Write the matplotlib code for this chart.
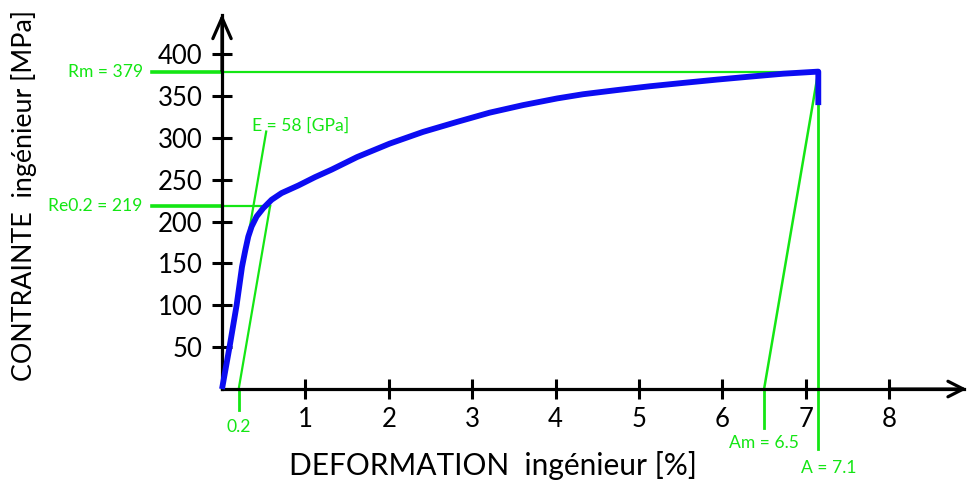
import matplotlib.pyplot as plt
import numpy as np

plt.rcParams['font.family'] = ['Lato', 'DejaVu Sans']

# courbe de traction (deformation %, contrainte MPa)
strain = [0, 0.09, 0.175, 0.24, 0.28, 0.315, 0.355, 0.415, 0.495, 0.595,
          0.715, 0.915, 1.115, 1.315, 1.62, 2.01, 2.41, 2.82, 3.21, 3.61,
          4.02, 4.33, 4.74, 5.13, 5.53, 5.94, 6.33, 6.73, 7.15, 7.15]
stress = [0, 50, 100, 146, 166, 182, 194, 206, 216, 226,
          234, 243, 253, 262, 277, 293, 307, 319, 330, 339,
          347, 352, 357, 361.5, 365.5, 369.5, 373, 376.5, 379, 339]

# valeurs caracteristiques
Rm = 379
Re02 = 219
E_GPa = 58
offset = 0.2
Am = 6.5
A_pos = 7.15
A_label = 7.1

xticks = [1, 2, 3, 4, 5, 6, 7, 8]
yticks = [50, 100, 150, 200, 250, 300, 350, 400]

green = '#14e614'
blue = '#0c0cf2'

fig = plt.figure(figsize=(9.68, 4.83), dpi=100)
ax = fig.add_axes([0, 0, 1, 1])
ax.set_xlim(-2.662, 8.945)
ax.set_ylim(-112.2, 464.5)

# axes en croix a l'origine
for s in ['top', 'right']:
    ax.spines[s].set_visible(False)
ax.spines['left'].set_position(('data', 0))
ax.spines['bottom'].set_position(('data', 0))
ax.spines['left'].set_bounds(0, 446)
ax.spines['bottom'].set_bounds(0, 8.9)
ax.spines['left'].set_linewidth(2.3)
ax.spines['bottom'].set_linewidth(2.3)
ax.annotate('', xy=(0, 448), xytext=(0, 380),
            arrowprops=dict(arrowstyle='->,head_length=0.75,head_width=0.33',
                            lw=2.3, color='black', mutation_scale=20,
                            shrinkA=0, shrinkB=0))
ax.annotate('', xy=(8.93, 0), xytext=(8.0, 0),
            arrowprops=dict(arrowstyle='->,head_length=0.55,head_width=0.28',
                            lw=2.3, color='black', mutation_scale=20,
                            shrinkA=0, shrinkB=0))

ax.set_xticks(xticks)
ax.set_yticks(yticks)
ax.tick_params(axis='both', direction='inout', length=14, width=2.2,
               labelsize=18.5, colors='black')
ax.tick_params(axis='y', pad=7)
ax.tick_params(axis='x', pad=6)

ax.text(3.25, -91, 'DEFORMATION  ingénieur [%]',
        fontsize=21.5, ha='center', va='center')
ax.text(-2.37, 231, 'CONTRAINTE  ingénieur [MPa]', fontsize=19.3,
        rotation=90, ha='center', va='center')

# lignes de construction
slope = E_GPa * 10  # MPa par %
ax.plot([0, 0.53], [0, 0.53 * slope], color=green, lw=1.6, zorder=2)
x_re = offset + Re02 / slope
ax.plot([offset, x_re], [0, Re02], color=green, lw=1.6, zorder=2)
ax.plot([offset, offset], [0, -25], color=green, lw=2, zorder=2)
ax.plot([-0.84, 0], [Re02, Re02], color=green, lw=2.6, zorder=2)
ax.plot([0, x_re], [Re02, Re02], color=green, lw=1.6, zorder=2)
ax.plot([-0.84, 0], [Rm, Rm], color=green, lw=2.6, zorder=2)
ax.plot([0, A_pos], [Rm, Rm], color=green, lw=1.6, zorder=2)
ax.plot([Am, A_pos], [0, Rm], color=green, lw=1.8, zorder=2)
ax.plot([Am, Am], [0, -47], color=green, lw=2, zorder=2)
ax.plot([A_pos, A_pos], [Rm, -72], color=green, lw=2, zorder=2)

# courbe
ax.plot(strain, stress, color=blue, lw=4.2, solid_capstyle='butt',
        solid_joinstyle='round', zorder=3)

lab = dict(color=green, fontsize=12.6, va='center')
ax.text(-0.95, Rm, f'Rm = {Rm}', ha='right', **lab)
ax.text(-0.95, Re02, f'Re0.2 = {Re02}', ha='right', **lab)
ax.text(0.36, 314, f'E = {E_GPa} [GPa]', ha='left', **lab)
ax.text(offset, -45, f'{offset}', ha='center', **lab)
ax.text(Am, -65, f'Am = {Am}', ha='center', **lab)
ax.text(A_pos + 0.13, -94, f'A = {A_label}', ha='center', **lab)

fig.savefig('out.png', dpi=100)
